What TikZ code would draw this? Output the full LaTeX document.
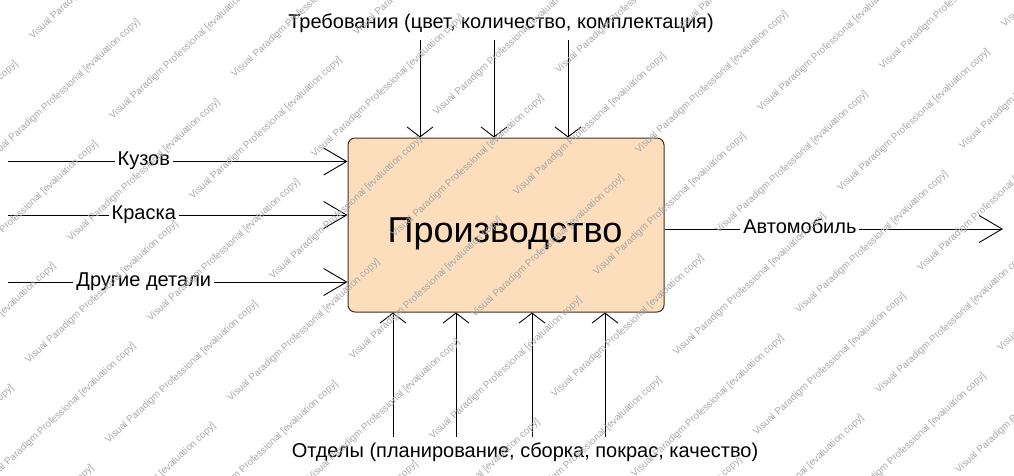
\documentclass[tikz,border=0pt]{standalone}
\usepackage{fontspec}
\setmainfont{Liberation Sans}
\usetikzlibrary{arrows.meta, positioning}
\definecolor{boxfill}{RGB}{252,221,188}
\definecolor{boxline}{RGB}{62,48,38}
\definecolor{wmgray}{RGB}{168,168,168}

\begin{document}
\begin{tikzpicture}[
  x=1pt, y=-1pt,
  box/.style={draw=boxline, fill=boxfill, line width=1pt, rounded corners=7pt, minimum width=316pt, minimum height=174pt, inner sep=0pt},
  title/.style={font=\fontsize{36}{40}\selectfont, text height=25.5pt, text depth=0pt, inner sep=0pt},
  lbl/.style={font=\fontsize{20}{23}\selectfont, text height=14.3pt, text depth=0pt, inner xsep=3pt, inner ysep=2pt},
  onarr/.style={lbl, fill=white, pos=0.4, yshift=3pt},
  harr/.style={-{Straight Barb[length=23pt, width=27pt]}, line width=0.9pt},
  varr/.style={-{Straight Barb[length=10pt, width=26pt]}, line width=0.9pt},
  wm/.style={font=\fontsize{9.8}{11}\selectfont, text=wmgray, rotate=43, anchor=west, inner sep=0pt}
]
\useasboundingbox (0,0) rectangle (1014,475);

\node[box] (prod) at (506,225) {};
\node[title] (prodtxt) at (505,229.5) {Производство};

\node[lbl] (req) at (501,21) {Требования (цвет, количество, комплектация)};
\node[lbl] (dept) at (525,450) {Отделы (планирование, сборка, покрас, качество)};

\coordinate (in1) at (8,161.5);
\coordinate (in2) at (8,215);
\coordinate (in3) at (8,282);
\coordinate (out) at (1003,229);
\foreach \x [count=\k] in {420,494,568} \coordinate (t\k) at (\x,40);
\foreach \x [count=\k] in {393,456,532,605} \coordinate (b\k) at (\x,437);

\draw[harr] (in1) -- node[onarr] (kuzov) {Кузов} (in1 -| prod.west);
\draw[harr] (in2) -- node[onarr] (kraska) {Краска} (in2 -| prod.west);
\draw[harr] (in3) -- node[onarr] (detali) {Другие детали} (in3 -| prod.west);
\draw[harr] (out -| prod.east) -- node[onarr] (avto) {Автомобиль} (out);

\foreach \k in {1,2,3} \draw[varr] (t\k) -- (t\k |- prod.north);
\foreach \k in {1,...,4} \draw[varr] (b\k) -- (b\k |- prod.south);

\begin{scope}
\clip (0,0) rectangle (1014,475);
\foreach \i in {-3,...,9}
  \foreach \j in {-5,...,5}
    \node[wm] (wm\i-\j) at ({107+122*\i+80*\j}, {442-42*\i+80*\j}) {Visual Paradigm Professional [evaluation copy]};
\end{scope}
\end{tikzpicture}
\end{document}
